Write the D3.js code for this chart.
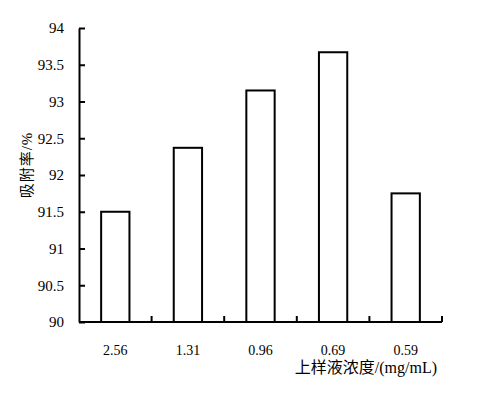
<!DOCTYPE html>
<html>
  <head>
    <meta charset="utf-8" />
    <style>
      body { margin: 0; background: #fff; }
      text { font-family: "Liberation Serif", "Times New Roman", "Noto Sans CJK SC", serif; fill: #000; }
    </style>
  </head>
  <body>

<svg id="graph"></svg>

<script src="https://d3js.org/d3.v7.min.js"></script>
<script>
  const WIDTH = 478;
  const HEIGHT = 399;

  // data
  const CONCENTRATIONS = ['2.56', '1.31', '0.96', '0.69', '0.59'];
  const ADSORPTION = [91.5, 92.37, 93.15, 93.67, 91.75];
  const Y_TICKS = [90, 90.5, 91, 91.5, 92, 92.5, 93, 93.5, 94];

  const LEFT = 79, RIGHT = 442, TOP = 28, BOTTOM = 322;

  const svg = d3.select('#graph')
    .attr('width', WIDTH)
    .attr('height', HEIGHT);

  const x = d3.scaleBand()
    .domain(CONCENTRATIONS)
    .range([LEFT, RIGHT])
    .paddingInner(0.61)
    .paddingOuter(0.305);

  const y = d3.scaleLinear()
    .domain([90, 94])
    .range([BOTTOM, TOP]);

  // bars
  svg.selectAll('rect.bar')
    .data(ADSORPTION)
    .enter()
    .append('rect')
    .attr('class', 'bar')
    .attr('x', (d, i) => x(CONCENTRATIONS[i]))
    .attr('width', x.bandwidth())
    .attr('y', d => y(d))
    .attr('height', d => BOTTOM - y(d))
    .attr('fill', '#fff')
    .attr('stroke', '#000')
    .attr('stroke-width', 2);

  // y axis, ticks pointing inward, labels drawn separately
  const yAxis = svg.append('g')
    .attr('transform', `translate(${LEFT},0)`)
    .call(d3.axisRight(y).tickValues(Y_TICKS).tickSize(6).tickSizeOuter(0).tickFormat(''));
  yAxis.select('.domain').attr('stroke-width', 2);
  yAxis.selectAll('.tick line').attr('stroke-width', 2);

  svg.selectAll('text.ylabel')
    .data(Y_TICKS)
    .enter()
    .append('text')
    .attr('class', 'ylabel')
    .attr('x', LEFT - 15)
    .attr('y', d => y(d))
    .attr('dy', '0.35em')
    .attr('text-anchor', 'end')
    .attr('font-size', 15)
    .text(d => d);

  // x axis: line plus band-border ticks pointing up
  svg.append('line')
    .attr('x1', LEFT).attr('x2', RIGHT)
    .attr('y1', BOTTOM).attr('y2', BOTTOM)
    .attr('stroke', '#000').attr('stroke-width', 2);
  svg.selectAll('line.xtick')
    .data(CONCENTRATIONS)
    .enter()
    .append('line')
    .attr('class', 'xtick')
    .attr('x1', d => x(d) - x.step() * x.paddingOuter() + x.step())
    .attr('x2', d => x(d) - x.step() * x.paddingOuter() + x.step())
    .attr('y1', BOTTOM).attr('y2', BOTTOM - 6)
    .attr('stroke', '#000').attr('stroke-width', 2);

  svg.selectAll('text.xlabel')
    .data(CONCENTRATIONS)
    .enter()
    .append('text')
    .attr('class', 'xlabel')
    .attr('x', d => x(d) + x.bandwidth() / 2)
    .attr('y', 355)
    .attr('text-anchor', 'middle')
    .attr('font-size', 14)
    .text(d => d);

  // axis titles
  svg.append('text')
    .attr('x', 437)
    .attr('y', 373)
    .attr('text-anchor', 'end')
    .attr('font-size', 16)
    .attr('fill', '#222')
    .text('上样液浓度/(mg/mL)');

  svg.append('text')
    .attr('transform', 'translate(32,165) rotate(-90)')
    .attr('text-anchor', 'middle')
    .attr('font-size', 15)
    .attr('letter-spacing', 1)
    .attr('fill', '#222')
    .text('吸附率/%');
</script>
  </body>
</html>
